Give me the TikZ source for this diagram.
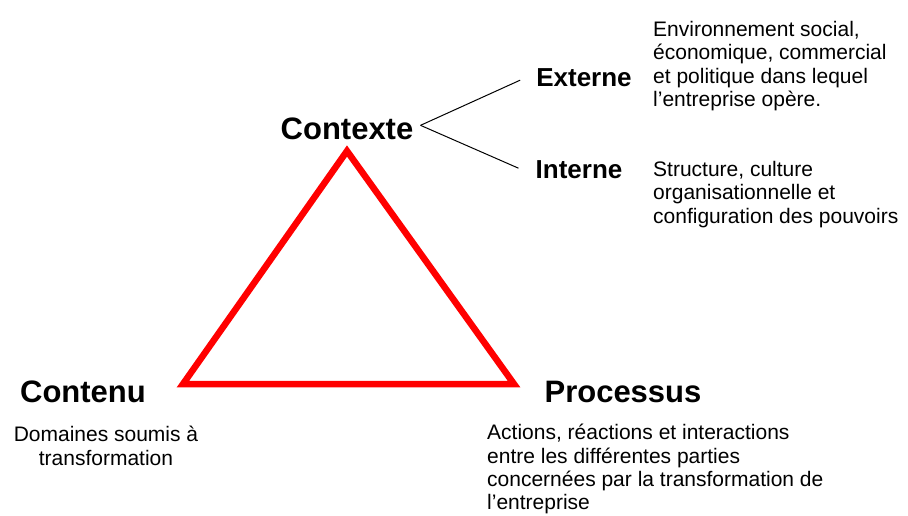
\documentclass[tikz,border=0pt]{standalone}
\usepackage{fontspec}
\setmainfont{Liberation Sans}
\usetikzlibrary{positioning}
\definecolor{trired}{RGB}{255,0,0}
\tikzset{
  biglabel/.style= {
    font = \fontsize{31}{36}\selectfont\bfseries,
    inner sep = 0pt,
    anchor = base
  },
  sublabel/.style= {
    font = \fontsize{26}{30}\selectfont\bfseries,
    inner ysep = 0pt,
    anchor = base
  },
  desc/.style= {
    font = \fontsize{21}{23.4}\selectfont,
    inner sep = 0pt,
    align = left,
    anchor = north west
  },
  triangle/.style= {
    draw = trired,
    line width = 6.5pt,
    miter limit = 10
  }
}

\begin{document}
\begin{tikzpicture}[x=1pt,y=-1pt]
  \useasboundingbox (0,0) rectangle (908,515);

  % red triangle
  \coordinate (top) at (347,151);
  \coordinate (left) at (183,384);
  \coordinate (right) at (514,384);
  \draw[triangle] (top) -- (right) -- (left) -- cycle;

  % corner labels
  \node[biglabel,inner xsep=7pt] (contexte) at (347,139) {Contexte};
  \node[biglabel] (contenu) at (83,402) {Contenu};
  \node[biglabel] (processus) at (623,402) {Processus};

  % context branches
  \node[sublabel,inner xsep=16pt] (externe) at (584,86) {Externe};
  \node[sublabel,inner xsep=17pt] (interne) at (579,178) {Interne};
  \draw[line width=1pt] ([yshift=3pt]contexte.east) -- ([yshift=-3pt]externe.west);
  \draw[line width=1pt] ([yshift=3pt]contexte.east) -- ([yshift=1pt]interne.west);

  % descriptions
  \node[desc] (externetxt) at (653,21) {Environnement social,\\
    économique, commercial\\
    et politique dans lequel\\
    l’entreprise opère.};
  \node[desc] (internetxt) at (653,161) {Structure, culture\\
    organisationnelle et\\
    configuration des pouvoirs};
  \node[desc,align=center,anchor=north] (contenutxt) at (106,426) {Domaines soumis à\\
    transformation};
  \node[desc] (processustxt) at (487,424) {Actions, réactions et interactions\\
    entre les différentes parties\\
    concernées par la transformation de\\
    l’entreprise};

\end{tikzpicture}
\end{document}
